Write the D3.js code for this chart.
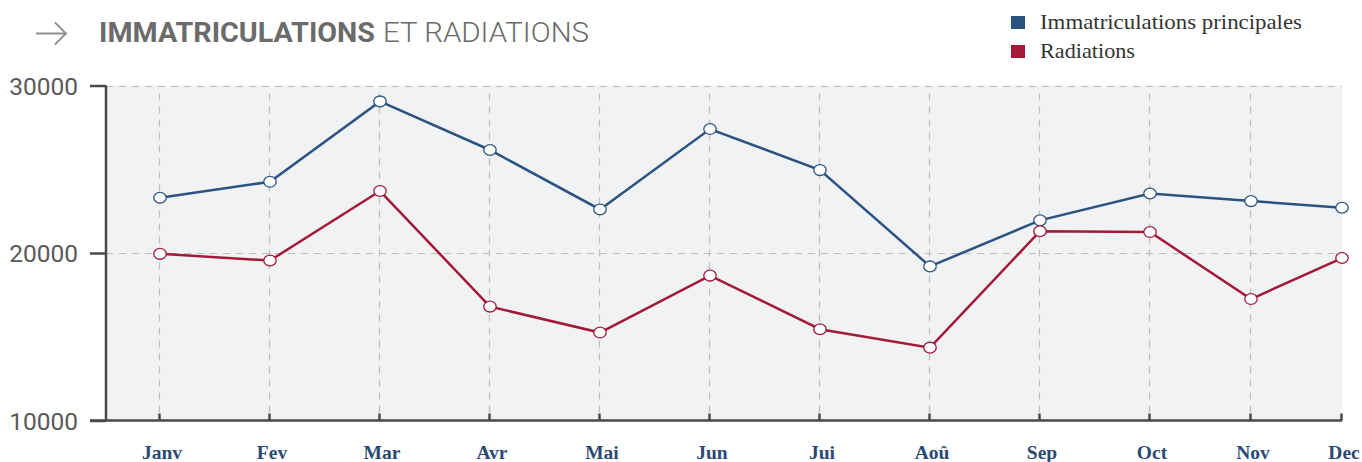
<!DOCTYPE html>
<html>
<head>
<meta charset="utf-8">
<script src="https://cdn.jsdelivr.net/npm/d3@7"></script>
<style>
html,body{margin:0;padding:0;background:#fff;}
svg{display:block;}
</style>
</head>
<body>
<svg id="chart" width="1362" height="462"></svg>
<script>
const months = ["Janv","Fev","Mar","Avr","Mai","Jun","Jui","Aoû","Sep","Oct","Nov","Dec"];
const immatriculations = [23300, 24250, 29050, 26150, 22600, 27400, 24950, 19200, 21950, 23550, 23100, 22700];
const radiations = [19950, 19550, 23700, 16800, 15250, 18650, 15450, 14350, 21300, 21250, 17250, 19700];
const yTicks = [10000, 20000, 30000];
const seriesNames = ["Immatriculations principales", "Radiations"];
const seriesColors = ["#2b5381", "#a3193a"];

const svg = d3.select("#chart");
const plotLeft = 106, plotRight = 1342, plotTop = 85.5, plotBottom = 420.5;

const y = d3.scaleLinear().domain([10000, 30000]).range([plotBottom, plotTop]);
// month positions: evenly spaced to Oct, narrower last two intervals as in the source
const xi = d3.scaleLinear().domain([0, 9, 10, 11]).range([159, 1149, 1250, 1341]);
const x = m => xi(months.indexOf(m));

// background
svg.append("rect").attr("x", plotLeft).attr("y", plotTop)
  .attr("width", plotRight - plotLeft).attr("height", plotBottom - plotTop)
  .attr("fill", "#f1f2f4");

// horizontal grid
svg.append("g").selectAll("line").data(yTicks.filter(t => t > 10000)).join("line")
  .attr("x1", plotLeft).attr("x2", plotRight)
  .attr("y1", d => Math.round(y(d)) + 0.5).attr("y2", d => Math.round(y(d)) + 0.5)
  .attr("stroke", "#bdbdbd").attr("stroke-width", 1.2).attr("stroke-dasharray", "7,6");

// vertical grid
svg.append("g").selectAll("line").data(months.slice(0, 11)).join("line")
  .attr("x1", d => Math.round(x(d)) + 0.5).attr("x2", d => Math.round(x(d)) + 0.5)
  .attr("y1", plotTop + 8).attr("y2", plotBottom)
  .attr("stroke", "#bdbdbd").attr("stroke-width", 1.2).attr("stroke-dasharray", "7,6");

// y axis
const yAxis = d3.axisLeft(y).tickValues(yTicks).tickSize(16).tickPadding(12).tickFormat(d3.format("d"));
const gy = svg.append("g").attr("transform", `translate(${plotLeft},0)`).call(yAxis);
gy.select(".domain").attr("stroke", "#4a4a4a").attr("stroke-width", 2.5).attr("d", `M0,${plotTop}V${plotBottom}`);
gy.selectAll(".tick line").attr("stroke", "#4a4a4a").attr("stroke-width", 2.5);
gy.selectAll(".tick text").attr("fill", "#5a5a5a").style("font-family", "Roboto, 'Open Sans', sans-serif")
  .style("font-size", "24.5px").style("font-weight", "normal").attr("dy", "0.36em");

// x axis
const gx = svg.append("g").attr("transform", `translate(0,${plotBottom})`);
gx.append("line").attr("x1", plotLeft - 16).attr("x2", plotRight)
  .attr("stroke", "#4a4a4a").attr("stroke-width", 2.5);
gx.selectAll("line.tk").data(months).join("line").attr("class", "tk")
  .attr("x1", d => Math.round(x(d)) + 0.5).attr("x2", d => Math.round(x(d)) + 0.5)
  .attr("y1", 0).attr("y2", -7).attr("stroke", "#4a4a4a").attr("stroke-width", 2.5);
gx.selectAll("text").data(months).join("text")
  .attr("x", d => x(d) + 3).attr("y", 38)
  .attr("text-anchor", "middle")
  .attr("fill", "#2b4a73")
  .style("font-family", "'Liberation Serif', 'DejaVu Serif', serif")
  .style("font-weight", "bold").style("font-size", "19.5px")
  .text(d => d);

// lines and markers
const allSeries = [immatriculations, radiations];
allSeries.forEach((vals, i) => {
  const pts = months.map((m, j) => [x(m) + 1, y(vals[j])]);
  svg.append("path").datum(pts)
    .attr("d", d3.line())
    .attr("fill", "none").attr("stroke", seriesColors[i]).attr("stroke-width", 2.5);
  svg.append("g").selectAll("ellipse").data(pts).join("ellipse")
    .attr("cx", d => d[0]).attr("cy", d => d[1]).attr("rx", 6.2).attr("ry", 5.4)
    .attr("fill", "#fff").attr("stroke", seriesColors[i]).attr("stroke-width", 1.3);
});

// title
const title = svg.append("g");
title.append("path").attr("d", "M36,33.5H65 M55,22.5L66,33.5L55,44.5")
  .attr("fill", "none").attr("stroke", "#8f8f8f").attr("stroke-width", 1.8);
const tt = title.append("text").attr("x", 99).attr("y", 42)
  .style("font-family", "'Roboto', 'DejaVu Sans Condensed', sans-serif")
  .style("font-size", "28px").attr("fill", "#6b6b6b");
tt.append("tspan").style("font-weight", "bold").attr("textLength", 276).attr("lengthAdjust", "spacingAndGlyphs").text("IMMATRICULATIONS");
tt.append("tspan").style("font-weight", "300").attr("dx", 8).attr("textLength", 206).attr("lengthAdjust", "spacingAndGlyphs").text("ET RADIATIONS");

// legend
const lg = svg.append("g");
const legendWidths = [262, 95];
seriesNames.forEach((n, i) => {
  lg.append("rect").attr("x", 1011).attr("y", 16 + i * 29).attr("width", 14).attr("height", 13)
    .attr("fill", seriesColors[i]);
  lg.append("text").attr("x", 1040).attr("y", 29 + i * 29)
    .style("font-family", "'Liberation Serif', 'DejaVu Serif', serif").style("font-size", "21px")
    .attr("textLength", legendWidths[i]).attr("lengthAdjust", "spacingAndGlyphs")
    .attr("fill", "#333").text(n);
});
</script>
</body>
</html>
